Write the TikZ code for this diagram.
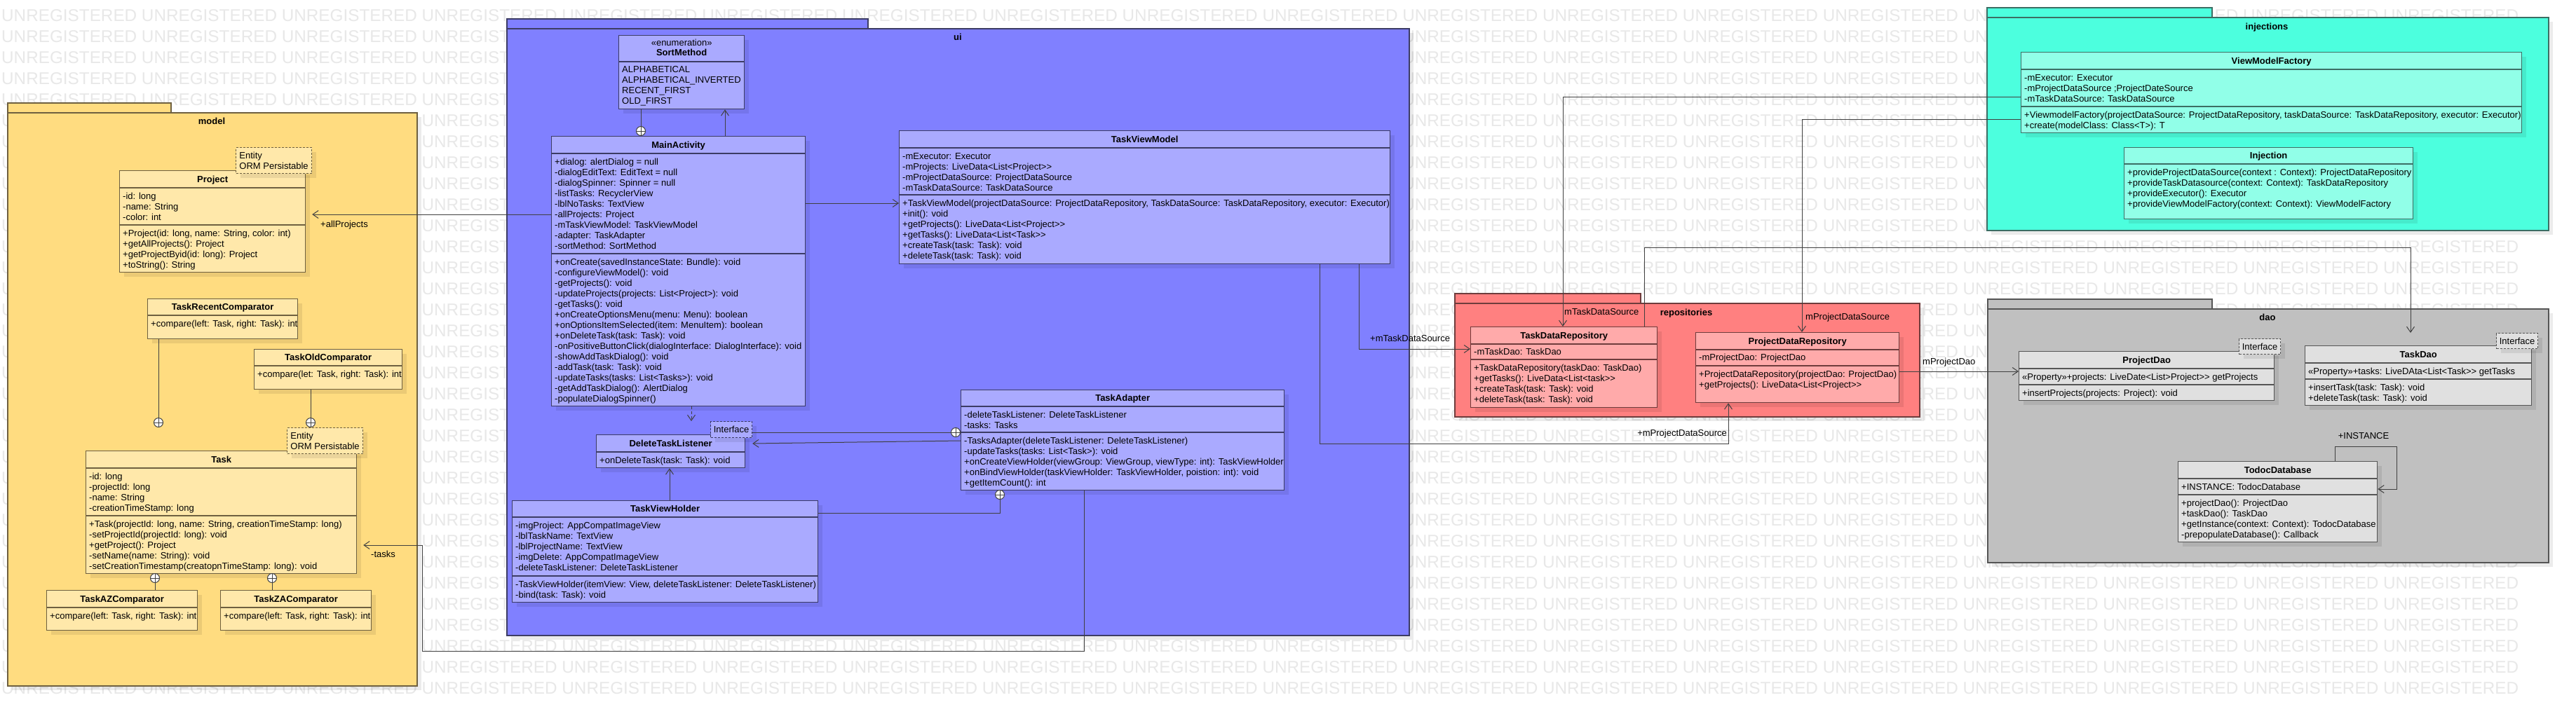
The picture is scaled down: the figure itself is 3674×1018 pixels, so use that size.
\documentclass[tikz,border=0pt]{standalone}
\usepackage{fontspec}
\setmainfont{Liberation Sans}
\usetikzlibrary{arrows.meta,shadows}
\definecolor{mpkg}{HTML}{FFDC80}
\definecolor{mcls}{HTML}{FFE8AA}
\definecolor{mline}{HTML}{6E6040}
\definecolor{upkg}{HTML}{8080FF}
\definecolor{ucls}{HTML}{AAAAFF}
\definecolor{uline}{HTML}{3C3C64}
\definecolor{rpkg}{HTML}{FF8080}
\definecolor{rcls}{HTML}{FFAAAA}
\definecolor{rline}{HTML}{6E3C3C}
\definecolor{ipkg}{HTML}{4CFFDE}
\definecolor{icls}{HTML}{91FFE8}
\definecolor{iline}{HTML}{3C6E64}
\definecolor{dpkg}{HTML}{C0C0C0}
\definecolor{dcls}{HTML}{E0E0E0}
\definecolor{dline}{HTML}{555555}
\definecolor{lnk}{HTML}{404040}
\newcommand\fst{\rule{0pt}{11pt}}
\newcommand\wmtext{UNREGISTERED UNREGISTERED UNREGISTERED UNREGISTERED UNREGISTERED UNREGISTERED UNREGISTERED UNREGISTERED UNREGISTERED UNREGISTERED UNREGISTERED UNREGISTERED UNREGISTERED UNREGISTERED UNREGISTERED UNREGISTERED UNREGISTERED UNREGISTERED}
\begin{document}
\begin{tikzpicture}[x=1pt,y=-1pt,font=\fontsize{13}{15}\selectfont,
  shd/.style={drop shadow={shadow xshift=6pt,shadow yshift=-6pt,opacity=0.08,fill=black}},
  pkg/.style={rectangle,anchor=north west,inner sep=0,line width=1.5pt,draw=#1line,fill=#1pkg},
  cls/.style={rectangle,anchor=north west,inner sep=0,line width=1.3pt,draw=#1line,fill=#1cls,shd},
  clsep/.style={draw=#1line,line width=1.3pt},
  note/.style={rectangle,anchor=north west,inner sep=0,align=left,line width=1.2pt,draw=#1line,fill=#1cls,dash pattern=on 3pt off 2pt,shd},
  ttl/.style={anchor=base,inner sep=0,font=\fontsize{13}{15}\selectfont\bfseries},
  mem/.style={anchor=north west,inner sep=0,align=left},
  lbl/.style={inner sep=0},
  ctn/.style={circle,draw=lnk,fill=white,line width=1pt,minimum size=13pt,inner sep=0,
    path picture={\draw[lnk,line width=1pt] (path picture bounding box.north) -- (path picture bounding box.south) (path picture bounding box.west) -- (path picture bounding box.east);}},
  link/.style={draw=lnk,line width=1pt},
  assoc/.style={link,-{Straight Barb[length=8pt,width=11pt]}},
  dep/.style={assoc,dash pattern=on 4pt off 3pt},
  wmark/.style={anchor=base west,inner sep=0,text=black!9,font=\fontsize{24.3}{29}\selectfont}]
\useasboundingbox (0,0) rectangle (3674,1018);
\fill[white] (0,0) rectangle (3674,1018);
\foreach \k in {0,...,32}
  \node[wmark] (wm\k) at (2,30.6+30*\k) {\wmtext};

% model
\node[pkg=m,minimum width=233,minimum height=14] (modeltab) at (10,146) {};
\node[pkg=m,shd,minimum width=584,minimum height=818] (model) at (10,160) {};
\node[ttl] (modellbl) at (302,177.5) {model};

\node[cls=m,minimum width=265,minimum height=145] (prj) at (170,243) {};
\draw[clsep=m] (prj.west |- 0,268) -- (prj.east |- 0,268) (prj.west |- 0,321) -- (prj.east |- 0,321);
\node[ttl] (prjt) at (prj.north |- 0,260) {Project};
\node[mem] (prja) at (175,273) {\fst-id: long\\-name: String\\-color: int};
\node[mem] (prjm) at (175,326) {\fst+Project(id: long, name: String, color: int)\\+getAllProjects(): Project\\+getProjectByid(id: long): Project\\+toString(): String};
\node[note=m,minimum width=108,minimum height=37] (prjn) at (336,210) {Entity\\ORM Persistable};

\node[cls=m,minimum width=214,minimum height=57] (trc) at (210,426) {};
\draw[clsep=m] (trc.west |- 0,450) -- (trc.east |- 0,450);
\node[ttl] (trct) at (trc.north |- 0,442) {TaskRecentComparator};
\node[mem] (trcm) at (215,455) {\fst+compare(left: Task, right: Task): int};

\node[cls=m,minimum width=211,minimum height=57] (toc) at (362,498) {};
\draw[clsep=m] (toc.west |- 0,522) -- (toc.east |- 0,522);
\node[ttl] (toct) at (toc.north |- 0,514) {TaskOldComparator};
\node[mem] (tocm) at (367,527) {\fst+compare(let: Task, right: Task): int};

\node[cls=m,minimum width=386,minimum height=175] (task) at (122,643) {};
\draw[clsep=m] (task.west |- 0,668) -- (task.east |- 0,668) (task.west |- 0,736) -- (task.east |- 0,736);
\node[ttl] (taskt) at (task.north |- 0,660) {Task};
\node[mem] (taska) at (127,673) {\fst-id: long\\-projectId: long\\-name: String\\-creationTimeStamp: long};
\node[mem] (taskm) at (127,741) {\fst+Task(projectId: long, name: String, creationTimeStamp: long)\\-setProjectId(projectId: long): void\\+getProject(): Project\\-setName(name: String): void\\-setCreationTimestamp(creatopnTimeStamp: long): void};
\node[note=m,minimum width=108,minimum height=37] (taskn) at (409,610) {Entity\\ORM Persistable};

\node[cls=m,minimum width=215,minimum height=57] (taz) at (66,842) {};
\draw[clsep=m] (taz.west |- 0,867) -- (taz.east |- 0,867);
\node[ttl] (tazt) at (taz.north |- 0,859) {TaskAZComparator};
\node[mem] (tazm) at (71,872) {\fst+compare(left: Task, right: Task): int};

\node[cls=m,minimum width=215,minimum height=57] (tza) at (314,842) {};
\draw[clsep=m] (tza.west |- 0,867) -- (tza.east |- 0,867);
\node[ttl] (tzat) at (tza.north |- 0,859) {TaskZAComparator};
\node[mem] (tzam) at (319,872) {\fst+compare(left: Task, right: Task): int};

% ui
\node[pkg=u,minimum width=515,minimum height=14] (uitab) at (722,26) {};
\node[pkg=u,shd,minimum width=1287,minimum height=866] (ui) at (722,40) {};
\node[ttl] (uilbl) at (1366,57.5) {ui};

\node[cls=u,minimum width=179,minimum height=105] (sm) at (882,50) {};
\draw[clsep=u] (sm.west |- 0,88) -- (sm.east |- 0,88);
\node[lbl,anchor=base] (sms) at (sm.north |- 0,65.5) {«enumeration»};
\node[ttl] (smt) at (sm.north |- 0,79.5) {SortMethod};
\node[mem] (smm) at (887,92) {\fst ALPHABETICAL\\ALPHABETICAL\_INVERTED\\RECENT\_FIRST\\OLD\_FIRST};

\node[cls=u,minimum width=362,minimum height=385] (ma) at (786,194) {};
\draw[clsep=u] (ma.west |- 0,219) -- (ma.east |- 0,219) (ma.west |- 0,362) -- (ma.east |- 0,362);
\node[ttl] (mat) at (ma.north |- 0,211) {MainActivity};
\node[mem] (maa) at (791,224) {\fst+dialog: alertDialog = null\\-dialogEditText: EditText = null\\-dialogSpinner: Spinner = null\\-listTasks: RecyclerView\\-lblNoTasks: TextView\\-allProjects: Project\\-mTaskViewModel: TaskViewModel\\-adapter: TaskAdapter\\-sortMethod: SortMethod};
\node[mem] (mam) at (791,367) {\fst+onCreate(savedInstanceState: Bundle): void\\-configureViewModel(): void\\-getProjects(): void\\-updateProjects(projects: List<Project>): void\\-getTasks(): void\\+onCreateOptionsMenu(menu: Menu): boolean\\+onOptionsItemSelected(item: MenuItem): boolean\\+onDeleteTask(task: Task): void\\-onPositiveButtonClick(dialogInterface: DialogInterface): void\\-showAddTaskDialog(): void\\-addTask(task: Task): void\\-updateTasks(tasks: List<Tasks>): void\\-getAddTaskDialog(): AlertDialog\\-populateDialogSpinner()};

\node[cls=u,minimum width=700,minimum height=190] (tvm) at (1282,186) {};
\draw[clsep=u] (tvm.west |- 0,211) -- (tvm.east |- 0,211) (tvm.west |- 0,278) -- (tvm.east |- 0,278);
\node[ttl] (tvmt) at (tvm.north |- 0,203) {TaskViewModel};
\node[mem] (tvma) at (1287,216) {\fst-mExecutor: Executor\\-mProjects: LiveData<List<Project>{}>\\-mProjectDataSource: ProjectDataSource\\-mTaskDataSource: TaskDataSource};
\node[mem] (tvmm) at (1287,283) {\fst+TaskViewModel(projectDataSource: ProjectDataRepository, TaskDataSource: TaskDataRepository, executor: Executor)\\+init(): void\\+getProjects(): LiveData<List<Project>{}>\\+getTasks(): LiveData<List<Task>{}>\\+createTask(task: Task): void\\+deleteTask(task: Task): void};

\node[cls=u,minimum width=212,minimum height=47] (dtl) at (850,620) {};
\draw[clsep=u] (dtl.west |- 0,645) -- (dtl.east |- 0,645);
\node[ttl] (dtlt) at (dtl.north |- 0,637) {DeleteTaskListener};
\node[mem] (dtlm) at (855,650) {\fst+onDeleteTask(task: Task): void};
\node[note=u,minimum width=59,minimum height=23] (dtln) at (1013,601) {Interface};

\node[cls=u,minimum width=461,minimum height=143] (ta) at (1370,556) {};
\draw[clsep=u] (ta.west |- 0,580) -- (ta.east |- 0,580) (ta.west |- 0,617) -- (ta.east |- 0,617);
\node[ttl] (tat) at (ta.north |- 0,572) {TaskAdapter};
\node[mem] (taa) at (1375,585) {\fst-deleteTaskListener: DeleteTaskListener\\-tasks: Tasks};
\node[mem] (tam) at (1375,622) {\fst-TasksAdapter(deleteTaskListener: DeleteTaskListener)\\-updateTasks(tasks: List<Task>): void\\+onCreateViewHolder(viewGroup: ViewGroup, viewType: int): TaskViewHolder\\+onBindViewHolder(taskViewHolder: TaskViewHolder, poistion: int): void\\+getItemCount(): int};

\node[cls=u,minimum width=436,minimum height=145] (tvh) at (730,714) {};
\draw[clsep=u] (tvh.west |- 0,738) -- (tvh.east |- 0,738) (tvh.west |- 0,822) -- (tvh.east |- 0,822);
\node[ttl] (tvht) at (tvh.north |- 0,730) {TaskViewHolder};
\node[mem] (tvha) at (735,743) {\fst-imgProject: AppCompatImageView\\-lblTaskName: TextView\\-lblProjectName: TextView\\-imgDelete: AppCompatImageView\\-deleteTaskListener: DeleteTaskListener};
\node[mem] (tvhm) at (735,827) {\fst-TaskViewHolder(itemView: View, deleteTaskListener: DeleteTaskListener)\\-bind(task: Task): void};

% repositories
\node[pkg=r,minimum width=265,minimum height=14] (repotab) at (2074,418) {};
\node[pkg=r,shd,minimum width=663,minimum height=162] (repo) at (2074,432) {};
\node[ttl] (repolbl) at (2405,450.5) {repositories};

\node[cls=r,minimum width=266,minimum height=115] (tdr) at (2097,466) {};
\draw[clsep=r] (tdr.west |- 0,491) -- (tdr.east |- 0,491) (tdr.west |- 0,513) -- (tdr.east |- 0,513);
\node[ttl] (tdrt) at (tdr.north |- 0,483) {TaskDataRepository};
\node[mem] (tdra) at (2102,495) {\fst-mTaskDao: TaskDao};
\node[mem] (tdrm) at (2102,518) {\fst+TaskDataRepository(taskDao: TaskDao)\\+getTasks(): LiveData<List<task>{}>\\+createTask(task: Task): void\\+deleteTask(task: Task): void};

\node[cls=r,minimum width=290,minimum height=100] (pdr) at (2418,474) {};
\draw[clsep=r] (pdr.west |- 0,499) -- (pdr.east |- 0,499) (pdr.west |- 0,522) -- (pdr.east |- 0,522);
\node[ttl] (pdrt) at (pdr.north |- 0,491) {ProjectDataRepository};
\node[mem] (pdra) at (2423,503) {\fst-mProjectDao: ProjectDao};
\node[mem] (pdrm) at (2423,527) {\fst+ProjectDataRepository(projectDao: ProjectDao)\\+getProjects(): LiveData<List<Project>{}>};

% injections
\node[pkg=i,minimum width=321,minimum height=14] (injtab) at (2833,10) {};
\node[pkg=i,shd,minimum width=801,minimum height=304] (inj) at (2833,24) {};
\node[ttl] (injlbl) at (3233,42.5) {injections};

\node[cls=i,minimum width=714,minimum height=115] (vmf) at (2882,74) {};
\draw[clsep=i] (vmf.west |- 0,99) -- (vmf.east |- 0,99) (vmf.west |- 0,152) -- (vmf.east |- 0,152);
\node[ttl] (vmft) at (vmf.north |- 0,91) {ViewModelFactory};
\node[mem] (vmfa) at (2887,104) {\fst-mExecutor: Executor\\-mProjectDataSource ;ProjectDateSource\\-mTaskDataSource: TaskDataSource};
\node[mem] (vmfm) at (2887,157) {\fst+ViewmodelFactory(projectDataSource: ProjectDataRepository, taskDataSource: TaskDataRepository, executor: Executor)\\+create(modelClass: Class<T>): T};

\node[cls=i,minimum width=412,minimum height=102] (injc) at (3029,210) {};
\draw[clsep=i] (injc.west |- 0,234) -- (injc.east |- 0,234);
\node[ttl] (injct) at (injc.north |- 0,226) {Injection};
\node[mem] (injcm) at (3034,239) {\fst+provideProjectDataSource(context : Context): ProjectDataRepository\\+provideTaskDatasource(context: Context): TaskDataRepository\\+provideExecutor(): Executor\\+provideViewModelFactory(context: Context): ViewModelFactory};

% dao
\node[pkg=d,minimum width=320,minimum height=14] (daotab) at (2834,426) {};
\node[pkg=d,shd,minimum width=800,minimum height=362] (dao) at (2834,440) {};
\node[ttl] (daolbl) at (3234,457.5) {dao};

\node[cls=d,minimum width=364,minimum height=70] (pdao) at (2879,501) {};
\draw[clsep=d] (pdao.west |- 0,526) -- (pdao.east |- 0,526) (pdao.west |- 0,549) -- (pdao.east |- 0,549);
\node[ttl] (pdaot) at (pdao.north |- 0,518) {ProjectDao};
\node[mem] (pdaoa) at (2884,531) {\fst«Property»+projects: LiveDate<List>Project>{}> getProjects};
\node[mem] (pdaom) at (2884,554) {\fst+insertProjects(projects: Project): void};
\node[note=d,minimum width=59,minimum height=22] (pdaon) at (3193,483) {Interface};

\node[cls=d,minimum width=323,minimum height=85] (tdao) at (3287,493) {};
\draw[clsep=d] (tdao.west |- 0,518) -- (tdao.east |- 0,518) (tdao.west |- 0,541) -- (tdao.east |- 0,541);
\node[ttl] (tdaot) at (tdao.north |- 0,510) {TaskDao};
\node[mem] (tdaoa) at (3292,523) {\fst«Property»+tasks: LiveDAta<List<Task>{}> getTasks};
\node[mem] (tdaom) at (3292,546) {\fst+insertTask(task: Task): void\\+deleteTask(task: Task): void};
\node[note=d,minimum width=59,minimum height=22] (tdaon) at (3560,475) {Interface};

\node[cls=d,minimum width=284,minimum height=115] (tdb) at (3106,658) {};
\draw[clsep=d] (tdb.west |- 0,683) -- (tdb.east |- 0,683) (tdb.west |- 0,706) -- (tdb.east |- 0,706);
\node[ttl] (tdbt) at (tdb.north |- 0,675) {TodocDatabase};
\node[mem] (tdba) at (3111,688) {\fst+INSTANCE: TodocDatabase};
\node[mem] (tdbm) at (3111,711) {\fst+projectDao(): ProjectDao\\+taskDao(): TaskDao\\+getInstance(context: Context): TodocDatabase\\-prepopulateDatabase(): Callback};

% nesting
\node[ctn] (c1) at (226,603) {};
\node[ctn] (c2) at (443,603) {};
\node[ctn] (c3) at (221,825) {};
\node[ctn] (c4) at (388,825) {};
\node[ctn] (cs) at (914,187) {};
\node[ctn] (cd) at (1363,617) {};
\node[ctn] (cv) at (1426,706) {};
\draw[link] (trc.south -| c1) -- (c1);
\draw[link] (toc.south -| c2) -- (c2);
\draw[link] (c3) -- (taz.north -| c3);
\draw[link] (c4) -- (tza.north -| c4);
\draw[link] (sm.south -| cs) -- (cs);
\draw[link] (dtln.east |- cd) -- (cd);
\draw[link] (tvh.east |- 0,732) -| (cv);

% associations
\draw[assoc] (ma.west |- 0,306) -- (prjn.east |- 0,306);
\node[lbl,anchor=west] (lallp) at (457,321) {+allProjects};
\draw[assoc] (ma.east |- 0,290) -- (tvm.west |- 0,290);
\draw[assoc] (ma.north -| 1034,0) -- (sm.south -| 1034,0);
\draw[dep] (ma.south -| 986,0) -- (dtln.north -| 986,0);
\draw[assoc] (ta.west |- 0,629) -- (dtln.east |- 0,633);
\draw[assoc] (tvh.north -| 955,0) -- (dtl.south -| 955,0);
\draw[assoc] (ta.south -| 1546,0) |- (602,929) |- (taskn.east |- 0,778);
\node[lbl,anchor=west] (ltasks) at (529,791) {-tasks};
\draw[assoc] (tvm.south -| 1938,0) |- (tdr.west |- 0,498);
\node[lbl,anchor=west] (ltds) at (1954,483) {+mTaskDataSource};
\draw[assoc] (tvm.south -| 1882,0) |- (2465,633) -- (pdr.south -| 2465,0);
\node[lbl,anchor=east] (lpds) at (2463,619) {+mProjectDataSource};
\draw[assoc] (vmf.west |- 0,138) -| (tdr.north -| 2229,0);
\node[lbl,anchor=west] (lvtds) at (2231,445) {mTaskDataSource};
\draw[assoc] (vmf.west |- 0,170) -| (pdr.north -| 2570,0);
\node[lbl,anchor=west] (lvpds) at (2575,453) {mProjectDataSource};
\draw[assoc] (tdr.north -| 2345,0) |- (3438,353) -- (tdaon.north -| 3438,0);
\draw[assoc] (pdr.east |- 0,530) -- (pdao.west |- 0,530);
\node[lbl,anchor=west] (lpdao) at (2742,517) {mProjectDao};
\draw[assoc] (tdb.north -| 3330,0) |- (3418,637) |- (tdb.east |- 0,698);
\node[lbl] (linst) at (3371,622) {+INSTANCE};
\end{tikzpicture}
\end{document}
